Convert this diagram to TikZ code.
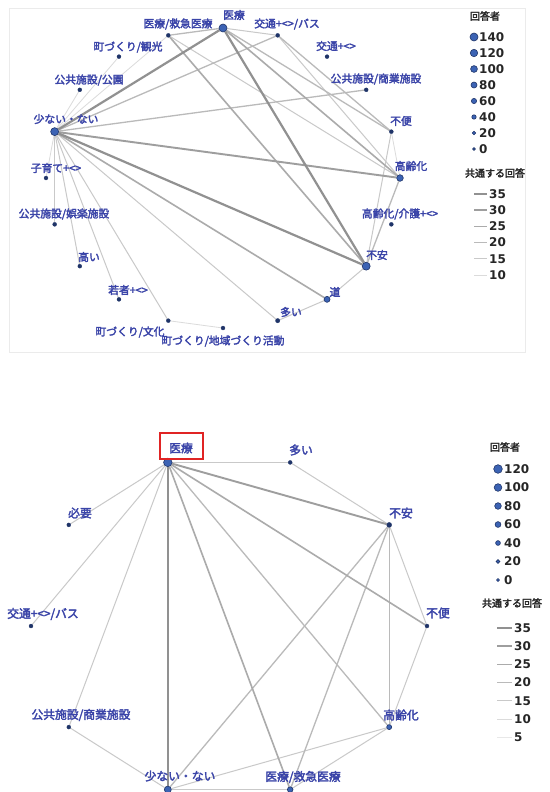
\documentclass[tikz,border=0pt]{standalone}
\usepackage{fontspec}
\newfontfamily\jp[FakeBold=2.6]{Noto Sans CJK JP}
\newfontfamily\lgf{DejaVu Sans}
\usetikzlibrary{backgrounds}
\definecolor{lab}{HTML}{3A44A8}
\definecolor{nodef}{HTML}{3C63B4}
\definecolor{nodeb}{HTML}{1F3468}
\definecolor{redbox}{HTML}{E02424}
\tikzset{
  vtx/.style={circle, inner sep=0pt, fill=nodef, draw=nodeb, line width=0.6pt, minimum size=#1},
  svtx/.style={circle, inner sep=0pt, fill=nodeb, draw=nodeb, line width=0.3pt, minimum size=#1},
  tlab/.style={font=\jp\fontsize{10.8}{11}\selectfont, text=lab, inner sep=1pt},
  blab/.style={font=\jp\fontsize{11.8}{12}\selectfont, text=lab, inner sep=1pt},
  lgtitle/.style={font=\jp\fontsize{10}{11}\selectfont, text=black!85, inner sep=1pt},
  lgnum/.style={font=\lgf\bfseries\fontsize{12}{13}\selectfont, text=black!85, anchor=west, inner sep=1pt},
  eA/.style={line width=0.6pt, draw=black!9},
  eB/.style={line width=0.8pt, draw=black!14},
  eC/.style={line width=1.0pt, draw=black!21},
  eD/.style={line width=1.3pt, draw=black!27},
  eE/.style={line width=1.6pt, draw=black!33},
  eF/.style={line width=1.9pt, draw=black!38},
  eG/.style={line width=2.2pt, draw=black!43},
}
\begin{document}
\begin{tikzpicture}[x=1pt,y=-1pt]
\useasboundingbox (0,0) rectangle (549,792);
% ---------- top panel nodes ----------
\foreach \i/\d/\k in {0/8/vtx,1/4/svtx,2/4/svtx,3/4/svtx,4/4/svtx,5/6.6/vtx,6/4/svtx,7/8/vtx,8/6/vtx,9/4.4/svtx,
  10/4/svtx,11/4/svtx,12/4/svtx,13/4/svtx,14/4/svtx,15/4/svtx,16/8/vtx,17/4/svtx,18/4/svtx,19/4/svtx}
  \node[\k=\d pt] (t\i) at ({223+177*sin(\i*18)},{178-150*cos(\i*18)}) {};
% ---------- bottom panel nodes ----------
\foreach \i/\d/\k in {0/8.5/vtx,1/4/svtx,2/5/svtx,3/4/svtx,4/5/vtx,5/5.6/vtx,6/7/vtx,7/4/svtx,8/4/svtx,9/4/svtx}
  \node[\k=\d pt] (b\i) at ({229+198*sin(\i*36-18)},{626-172*cos(\i*36-18)}) {};
\begin{scope}[on background layer]
\fill[white] (0,0) rectangle (549,792);
\draw[black!8, line width=0.8pt] (9,8) rectangle (525,352);
% top edges
\foreach \a/\b in {16/15,16/17,16/18,16/19,11/10,4/5} \draw[eB] (t\a) -- (t\b);
\foreach \a/\b in {0/1,19/5,1/5,16/9,16/12,16/13,16/11,16/14,4/7,7/8,8/9} \draw[eC] (t\a) -- (t\b);
\foreach \a/\b in {0/4,1/4,16/1,16/3,5/7,0/19} \draw[eD] (t\a) -- (t\b);
\foreach \a/\b in {0/5,19/7,16/8} \draw[eE] (t\a) -- (t\b);
\draw[eF] (t16) -- (t5);
\foreach \a/\b in {0/16,0/7,16/7} \draw[eG] (t\a) -- (t\b);
% bottom edges
\foreach \a/\b in {0/1,1/2,0/7,0/8,0/9,2/3,3/4,4/6,4/5,6/7,6/5} \draw[eC] (b\a) -- (b\b);
\foreach \a/\b in {0/4,2/6,2/5,2/4} \draw[eD] (b\a) -- (b\b);
\foreach \a/\b in {0/3,0/5} \draw[eE] (b\a) -- (b\b);
\draw[eF] (b0) -- (b2);
\draw[eG] (b0) -- (b6);
\end{scope}
% ---------- top labels ----------
\node[tlab] (tl0) at (234,15) {医療};
\node[tlab] (tl1) at (287,24) {交通+<>/バス};
\node[tlab] (tl2) at (336,46) {交通+<>};
\node[tlab] (tl3) at (376,79) {公共施設/商業施設};
\node[tlab] (tl4) at (401,121) {不便};
\node[tlab] (tl5) at (411,166) {高齢化};
\node[tlab] (tl6) at (400,214) {高齢化/介護+<>};
\node[tlab] (tl7) at (377,255) {不安};
\node[tlab] (tl8) at (335,292) {道};
\node[tlab] (tl9) at (291,312) {多い};
\node[tlab] (tl10) at (223,341) {町づくり/地域づくり活動};
\node[tlab] (tl11) at (130,332) {町づくり/文化};
\node[tlab] (tl12) at (128,290) {若者+<>};
\node[tlab] (tl13) at (89,257) {高い};
\node[tlab] (tl14) at (64,214) {公共施設/娯楽施設};
\node[tlab] (tl15) at (56,168) {子育て+<>};
\node[tlab] (tl16) at (66,119) {少ない・ない};
\node[tlab] (tl17) at (89,80) {公共施設/公園};
\node[tlab] (tl18) at (128,47) {町づくり/観光};
\node[tlab] (tl19) at (178,24) {医療/救急医療};
% ---------- bottom labels ----------
\node[blab] (bl0) at (181,448) {医療};
\node[blab] (bl1) at (301,450) {多い};
\node[blab] (bl2) at (401,513) {不安};
\node[blab] (bl3) at (438,613) {不便};
\node[blab] (bl4) at (401,715) {高齢化};
\node[blab] (bl5) at (303,777) {医療/救急医療};
\node[blab] (bl6) at (180,776) {少ない・ない};
\node[blab] (bl7) at (81,715) {公共施設/商業施設};
\node[blab] (bl8) at (43,614) {交通+<>/バス};
\node[blab] (bl9) at (80,513) {必要};
\draw[redbox, line width=1.5pt] (160,433) rectangle (203,459);
% ---------- top legend ----------
\node[lgtitle] (tlegA) at (485,16) {回答者};
\foreach \k/\v/\d in {0/140/8,1/120/7.4,2/100/6.8,3/80/6,4/60/5.2,5/40/4.4,6/20/3.6,7/0/2.8} {
  \node[vtx=\d pt] (tc\k) at (474,{37+16*\k}) {};
  \node[lgnum] (tn\k) at (478,{37+16*\k}) {\v};
}
\node[lgtitle] (tlegB) at (495,173) {共通する回答};
\foreach \k/\v/\s in {0/35/eG,1/30/eF,2/25/eE,3/20/eD,4/15/eC,5/10/eB} {
  \coordinate (tla\k) at (474,{194+16.2*\k});
  \coordinate (tlb\k) at (487,{194+16.2*\k});
  \draw[\s] (tla\k) -- (tlb\k);
  \node[lgnum] (tm\k) at (488,{194+16.2*\k}) {\v};
}
% ---------- bottom legend ----------
\node[lgtitle] (blegA) at (505,447) {回答者};
\foreach \k/\v/\d in {0/120/8.6,1/100/7.6,2/80/6.6,3/60/5.8,4/40/4.8,5/20/3.8,6/0/3} {
  \node[vtx=\d pt] (bc\k) at (498,{469+18.5*\k}) {};
  \node[lgnum] (bn\k) at (503,{469+18.5*\k}) {\v};
}
\node[lgtitle] (blegB) at (512,603) {共通する回答};
\foreach \k/\v/\s in {0/35/eG,1/30/eF,2/25/eE,3/20/eD,4/15/eC,5/10/eB,6/5/eA} {
  \coordinate (bla\k) at (497,{628+18.2*\k});
  \coordinate (blb\k) at (512,{628+18.2*\k});
  \draw[\s] (bla\k) -- (blb\k);
  \node[lgnum] (bm\k) at (513,{628+18.2*\k}) {\v};
}
\end{tikzpicture}
\end{document}
